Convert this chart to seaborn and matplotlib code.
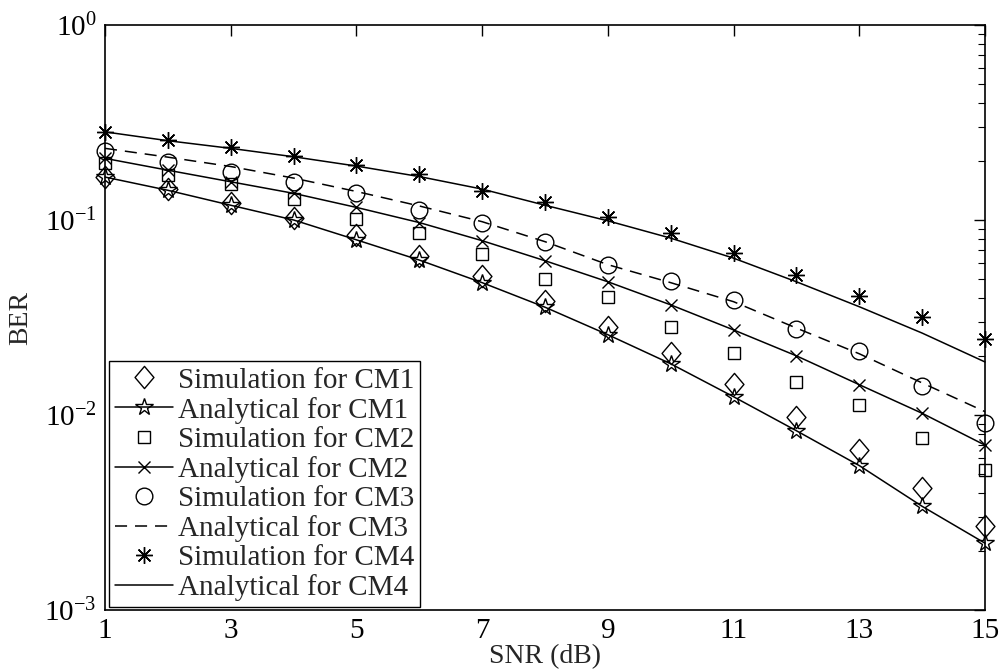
import numpy as np
import pandas as pd
import seaborn as sns
import matplotlib
matplotlib.use('Agg')
import matplotlib.pyplot as plt
from matplotlib.path import Path

# BER curves
snr = [1, 2, 3, 4, 5, 6, 7, 8, 9, 10, 11, 12, 13, 14, 15]
sim_cm1 = [0.167, 0.145, 0.122, 0.102, 0.0837, 0.0655, 0.0515, 0.0386, 0.0284, 0.0209, 0.0144, 0.0098, 0.0066, 0.0042, 0.0027]
ana_cm1 = [0.166, 0.142, 0.119, 0.100, 0.0791, 0.0623, 0.0477, 0.0357, 0.0258, 0.0183, 0.0124, 0.0083, 0.0055, 0.0034, 0.0022]
sim_cm2 = [0.197, 0.170, 0.153, 0.128, 0.101, 0.0855, 0.0670, 0.0499, 0.0405, 0.0284, 0.0207, 0.0148, 0.0112, 0.0076, 0.0052]
ana_cm2 = [0.207, 0.180, 0.157, 0.137, 0.116, 0.097, 0.0783, 0.0618, 0.0482, 0.0367, 0.0273, 0.0201, 0.0143, 0.0102, 0.0070]
sim_cm3 = [0.226, 0.199, 0.177, 0.157, 0.138, 0.113, 0.0970, 0.0774, 0.0590, 0.0489, 0.0389, 0.0276, 0.0214, 0.0141, 0.0091]
ana_cm3 = [0.233, 0.210, 0.188, 0.164, 0.140, 0.118, 0.098, 0.0774, 0.0590, 0.0477, 0.0381, 0.0279, 0.0206, 0.0146, 0.0104]
sim_cm4 = [0.283, 0.257, 0.237, 0.213, 0.191, 0.173, 0.140, 0.124, 0.103, 0.0855, 0.068, 0.0522, 0.0408, 0.0317, 0.0244]
ana_cm4 = [0.283, 0.255, 0.233, 0.211, 0.189, 0.167, 0.144, 0.119, 0.099, 0.0807, 0.0637, 0.0482, 0.0359, 0.0263, 0.0187]
xticks = [1, 3, 5, 7, 9, 11, 13, 15]

sns.set_theme(style='white')
plt.rcParams['font.family'] = ['Liberation Serif', 'DejaVu Serif']
plt.rcParams['mathtext.fontset'] = 'stix'

# matlab-like diamond (a bit wider than matplotlib's 'd')
diamond = Path([(0, 1), (0.85, 0), (0, -1), (-0.85, 0), (0, 1)],
               [Path.MOVETO, Path.LINETO, Path.LINETO, Path.LINETO, Path.CLOSEPOLY])

# (label, values, marker, linestyle, markersize)
series = [
    ('Simulation for CM1', sim_cm1, diamond, 'none', 16),
    ('Analytical for CM1', ana_cm1, '*', '-', 13),
    ('Simulation for CM2', sim_cm2, 's', 'none', 9),
    ('Analytical for CM2', ana_cm2, 'x', '-', 9),
    ('Simulation for CM3', sim_cm3, 'o', 'none', 12),
    ('Analytical for CM3', ana_cm3, None, (0, (7.9, 5.2)), 0),
    ('Simulation for CM4', sim_cm4, (8, 2, 0), 'none', 12),
    ('Analytical for CM4', ana_cm4, None, '-', 0),
]

fig = plt.figure(figsize=(10.04, 6.70), dpi=100)
ax = fig.add_axes([0.1046, 0.0896, 0.8765, 0.8731])

for label, vals, mk, ls, ms in series:
    df = pd.DataFrame({'snr': snr, 'ber': vals})
    sns.lineplot(data=df, x='snr', y='ber', ax=ax, color='black', linestyle=ls,
                 marker=mk, markersize=ms, markerfacecolor='none',
                 markeredgecolor='black', markeredgewidth=1.0, linewidth=1.1,
                 label=label, clip_on=False)

ax.set_yscale('log')
ax.set_xlim(1, 15)
ax.set_ylim(1e-3, 1)
ax.set_xticks(xticks)
ax.set_xticklabels([str(t) for t in xticks])
ax.set_xlabel('SNR (dB)', fontsize=20, labelpad=0)
ax.set_ylabel('BER', fontsize=20, labelpad=8)
ax.tick_params(which='both', direction='in', top=True, right=True,
               labelsize=21, colors='black', pad=6)
ax.tick_params(which='major', length=8, width=1)
ax.tick_params(which='minor', length=5, width=0.8)
ax.yaxis.set_minor_locator(matplotlib.ticker.LogLocator(base=10, subs=np.arange(2, 10)))
ax.xaxis.set_minor_locator(matplotlib.ticker.NullLocator())
for sp in ax.spines.values():
    sp.set_color('black')
    sp.set_linewidth(1.2)

leg = ax.legend(loc='lower left', bbox_to_anchor=(0.0045, 0.005), fontsize=21,
                frameon=True, fancybox=False, edgecolor='black', framealpha=1,
                borderpad=0.2, labelspacing=0.1, handlelength=2.0,
                handletextpad=0.15, borderaxespad=0)
leg.get_frame().set_linewidth(1.0)

fig.savefig('out.png', dpi=100)
